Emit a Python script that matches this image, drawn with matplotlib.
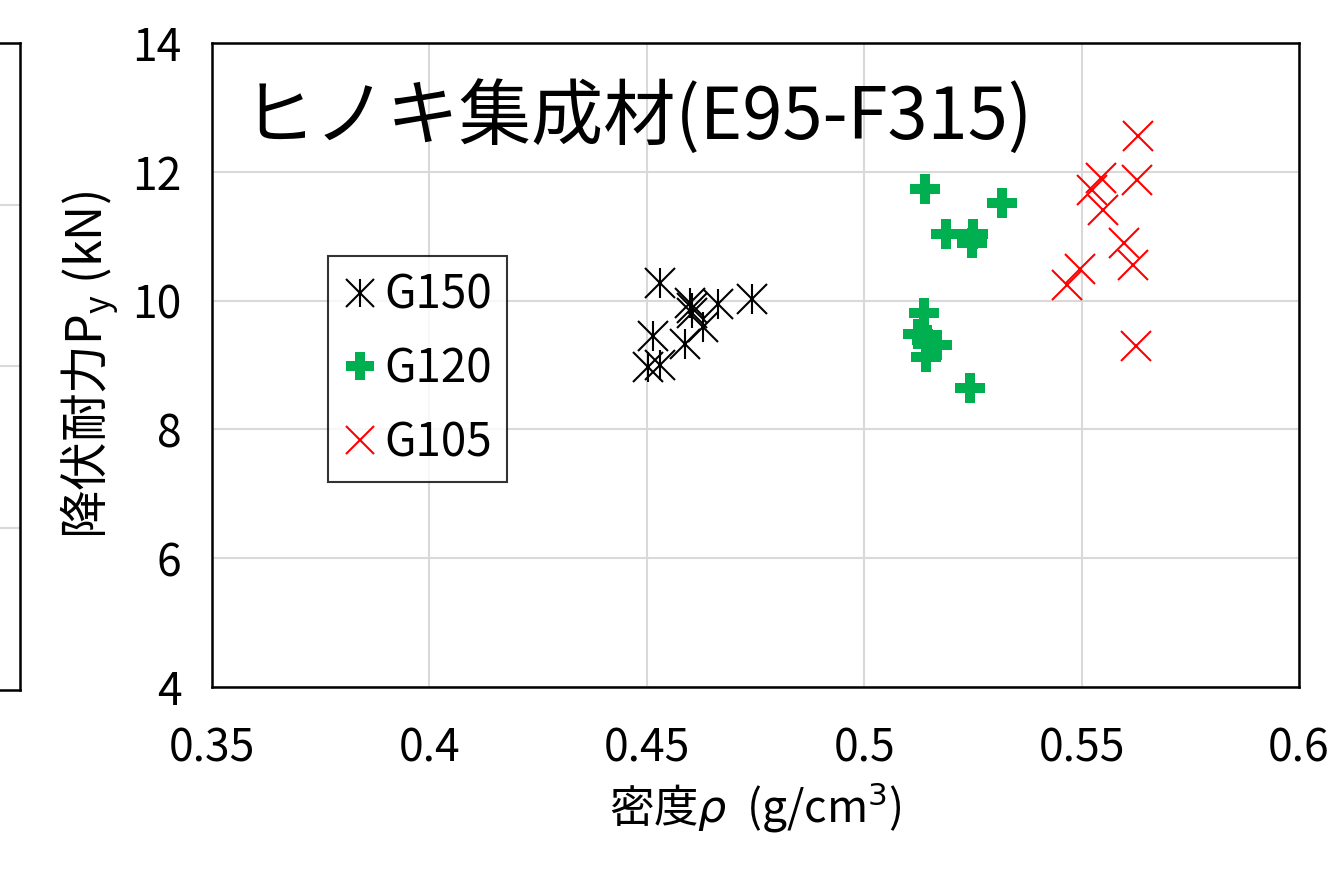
import matplotlib
matplotlib.use("Agg")
import matplotlib.pyplot as plt
from matplotlib.legend_handler import HandlerTuple

plt.rcParams['font.family'] = ['Noto Sans CJK JP', 'DejaVu Sans']

# Data
g150_x = [0.4530, 0.4599, 0.4603, 0.4664, 0.4741, 0.4630, 0.4515, 0.4588, 0.4503, 0.4530, 0.4605]
g150_y = [10.27, 9.96, 9.80, 9.95, 10.02, 9.59, 9.45, 9.33, 8.97, 9.00, 9.88]

g120_x = [0.5140, 0.5316, 0.5188, 0.5251, 0.5247, 0.5138, 0.5124, 0.5144, 0.5167, 0.5141, 0.5243]
g120_y = [11.74, 11.52, 11.03, 11.03, 10.90, 9.81, 9.48, 9.39, 9.31, 9.13, 8.64]

g105_x = [0.5630, 0.5544, 0.5627, 0.5523, 0.5550, 0.5598, 0.5619, 0.5496, 0.5467, 0.5625]
g105_y = [12.56, 11.90, 11.88, 11.72, 11.41, 10.90, 10.55, 10.49, 10.24, 9.30]

x_ticks = [0.35, 0.4, 0.45, 0.5, 0.55, 0.6]
x_ticklabels = ['0.35', '0.4', '0.45', '0.5', '0.55', '0.6']
y_ticks = [4, 6, 8, 10, 12, 14]

title_text = 'ヒノキ集成材(E95-F315)'
xlabel_text = '密度$\\rho$  (g/cm$^3$)'
ylabel_text = '降伏耐力P$_\\mathregular{y}$ (kN)'

W, H = 1327, 871
fig = plt.figure(figsize=(W / 100, H / 100), dpi=100)

# partial neighbouring chart at far left (cut off)
axl = fig.add_axes([-0.3, 1 - 690 / H, 0.3 + 20 / W, (690 - 43) / H])
axl.set_xlim(0, 1)
axl.set_ylim(0, 4)
axl.set_yticks([1, 2, 3])
axl.set_xticks([])
axl.tick_params(left=False, labelleft=False)
axl.grid(axis='y', color='#D9D9D9', linewidth=1.5)
for s in axl.spines.values():
    s.set_linewidth(1.8)

left, right, top, bottom = 212, 1299, 43, 687
ax = fig.add_axes([left / W, 1 - bottom / H, (right - left) / W, (bottom - top) / H])
ax.set_xlim(0.35, 0.6)
ax.set_ylim(4, 14)
ax.set_xticks(x_ticks)
ax.set_xticklabels(x_ticklabels)
ax.set_yticks(y_ticks)
ax.grid(True, color='#D9D9D9', linewidth=1.5)
ax.set_axisbelow(True)
for s in ax.spines.values():
    s.set_linewidth(1.8)
ax.tick_params(length=0, labelsize=32)
ax.tick_params(axis='x', pad=28)
ax.tick_params(axis='y', pad=22)

ms = 21
h1, = ax.plot(g150_x, g150_y, linestyle='none', marker='x', ms=ms, mew=1.5, color='black')
h1b, = ax.plot(g150_x, g150_y, linestyle='none', marker='|', ms=ms, mew=1.5, color='black')
h2, = ax.plot(g120_x, g120_y, linestyle='none', marker='P', ms=ms, mew=0, color='#00B050')
h3, = ax.plot(g105_x, g105_y, linestyle='none', marker='x', ms=ms, mew=1.5, color='#FF0000')

leg = ax.legend([(h1, h1b), h2, h3], ['G150', 'G120', 'G105'],
                handler_map={tuple: HandlerTuple(ndivide=1)},
                loc='upper left', bbox_to_anchor=(0.1067, 0.669),
                fontsize=33, frameon=True, fancybox=False, edgecolor='black',
                handlelength=0.75, handletextpad=0.15, borderpad=0.33,
                labelspacing=0.55, borderaxespad=0, markerscale=0.95)
leg.get_frame().set_linewidth(1.5)

ax.text(0.028, 0.885, title_text, transform=ax.transAxes, fontsize=52,
        ha='left', va='center')

ax.set_xlabel(xlabel_text, fontsize=32, labelpad=6)
ax.set_ylabel(ylabel_text, fontsize=35, labelpad=8)

fig.savefig('out.png', dpi=100)
